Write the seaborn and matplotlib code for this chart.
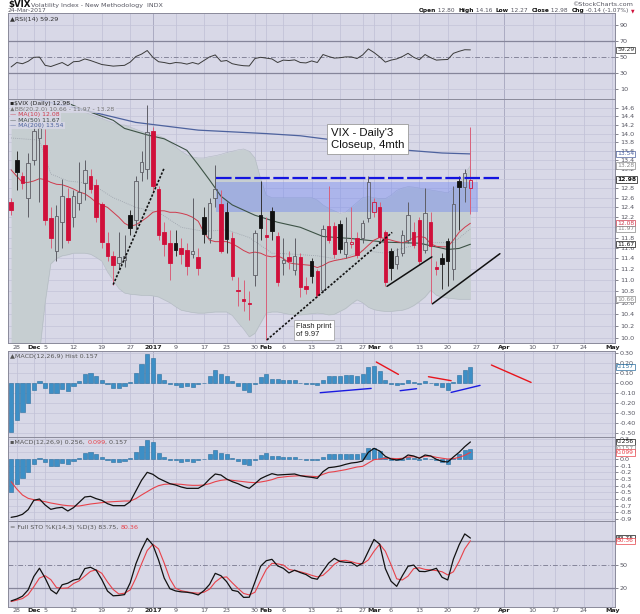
import numpy as np
import matplotlib
matplotlib.use("Agg")
import matplotlib.pyplot as plt
import matplotlib.ticker as mticker
import matplotlib.transforms as mtrans
from matplotlib.patches import Rectangle
import seaborn as sns

# trading day index: 0 = 25 Nov 2016 ... 81 = 24 Mar 2017 (future days run to 1 May = 106)
days = list(range(82))
prev_close = 12.43

opens = [12.50, 13.40, 13.05, 12.60, 13.40, 13.90, 13.73, 12.18, 11.55, 12.10,
         12.60, 12.20, 12.48, 12.90, 13.05, 12.87, 12.47, 11.70, 11.45, 11.32,
         11.38, 12.25, 12.14, 13.15, 13.20, 14.05, 12.78, 11.90, 11.70, 11.70,
         11.60, 11.56, 11.48, 11.42, 12.20, 11.80, 12.60, 12.47, 12.30, 11.80,
         10.83, 10.66, 10.60, 11.10, 12.25, 11.85, 12.33, 11.83, 11.32, 11.43,
         11.18, 11.42, 10.90, 11.35, 11.17, 10.82, 12.03, 12.03, 12.07, 11.48,
         11.68, 11.79, 11.79, 12.18, 12.30, 12.40, 11.90, 11.55, 11.30, 11.50,
         11.75, 11.90, 12.14, 11.56, 12.10, 11.25, 11.40, 11.73, 11.20, 12.95,
         12.82, 12.80]
highs = [12.60, 13.60, 13.15, 13.55, 14.20, 14.30, 14.10, 12.40, 12.45, 13.00,
         12.80, 12.75, 13.35, 13.40, 13.20, 13.00, 12.50, 11.90, 11.55, 11.90,
         11.85, 12.35, 13.05, 13.60, 14.68, 14.15, 12.85, 12.10, 11.95, 11.95,
         11.80, 11.70, 12.60, 11.60, 12.40, 12.60, 13.30, 12.75, 12.50, 11.90,
         11.05, 11.00, 10.80, 11.95, 12.95, 12.20, 12.40, 11.90, 11.80, 11.55,
         11.80, 11.50, 11.05, 11.40, 11.20, 12.05, 12.85, 12.10, 12.15, 12.20,
         12.40, 11.90, 12.15, 13.05, 12.60, 12.50, 11.95, 11.60, 11.60, 11.95,
         12.50, 12.10, 12.20, 12.80, 12.30, 11.35, 11.50, 11.80, 12.85, 13.05,
         13.20, 14.16]
lows = [12.25, 12.75, 12.78, 12.20, 13.30, 12.50, 12.05, 11.60, 11.35, 11.60,
        11.70, 12.00, 12.35, 12.55, 12.70, 12.10, 11.60, 11.35, 10.92, 11.20,
        11.25, 11.85, 11.95, 12.95, 13.00, 12.70, 11.75, 11.45, 11.00, 11.45,
        11.30, 11.10, 11.40, 11.10, 11.70, 11.70, 12.40, 11.50, 11.50, 11.00,
        10.55, 10.45, 10.30, 10.90, 11.75, 9.97, 11.75, 10.90, 11.10, 11.20,
        11.10, 10.70, 10.75, 10.95, 10.70, 10.78, 11.70, 11.40, 11.50, 11.40,
        11.60, 11.40, 11.70, 12.10, 12.20, 11.70, 10.90, 11.00, 11.20, 11.45,
        11.70, 11.60, 11.30, 11.50, 10.60, 11.10, 10.85, 10.90, 11.00, 11.95,
        12.50, 12.27]
closes = [12.34, 13.15, 12.90, 13.33, 14.07, 14.12, 12.14, 11.79, 12.22, 12.64,
          11.75, 12.64, 12.72, 13.19, 12.79, 12.20, 11.71, 11.45, 11.27, 11.43,
          11.44, 11.99, 12.95, 13.37, 14.04, 12.85, 11.85, 11.67, 11.32, 11.56,
          11.49, 11.26, 11.54, 11.23, 11.87, 12.48, 12.78, 11.54, 11.77, 11.07,
          10.81, 10.63, 10.58, 11.88, 11.99, 11.81, 11.93, 10.97, 11.37, 11.35,
          11.45, 10.88, 10.85, 11.07, 10.74, 11.97, 11.76, 11.49, 11.57, 11.72,
          11.71, 11.47, 12.09, 12.92, 12.50, 11.81, 10.96, 11.22, 11.45, 11.85,
          12.25, 11.66, 11.35, 12.28, 11.64, 11.21, 11.30, 11.36, 12.47, 12.82,
          13.12, 12.98]

ma10 = [13.19, 13.05, 12.92, 12.92, 12.95, 13.00, 12.98, 12.92, 12.88, 12.87,
        12.83, 12.78, 12.72, 12.68, 12.60, 12.50, 12.45, 12.40, 12.30, 12.20,
        12.08, 12.02, 12.05, 12.12, 12.20, 12.30, 12.33, 12.33, 12.30, 12.30,
        12.28, 12.25, 12.20, 12.12, 11.90, 11.75, 11.72, 11.72, 11.72, 11.68,
        11.62, 11.55, 11.50, 11.52, 11.50, 11.45, 11.43, 11.45, 11.40, 11.32,
        11.30, 11.29, 11.28, 11.27, 11.23, 11.27, 11.33, 11.36, 11.38, 11.40,
        11.43, 11.46, 11.55, 11.65, 11.75, 11.80, 11.78, 11.75, 11.72, 11.70,
        11.73, 11.80, 11.82, 11.80, 11.68, 11.63, 11.62, 11.62, 11.75, 11.90,
        12.00, 12.08]
bb_upper = [18.6, 18.5, 18.4, 18.3, 18.2, 18.0, 16.0, 14.95, 14.75, 14.60,
            14.52, 14.50, 14.50, 14.50, 14.45, 14.40, 14.35, 14.30, 14.25, 14.20,
            14.20, 14.15, 14.10, 14.05, 14.00, 14.00, 13.95, 13.90, 13.80, 13.70,
            13.60, 13.52, 13.47, 13.45, 13.45, 13.48, 13.50, 13.53, 13.57, 13.60,
            13.63, 13.65, 13.60, 13.45, 13.00, 12.65, 12.60, 12.60, 12.60, 12.60,
            12.60, 12.60, 12.60, 12.60, 12.55, 12.45, 12.38, 12.33, 12.28, 12.30,
            12.40, 12.50, 12.60, 12.62, 12.60, 12.58, 12.58, 12.65, 12.75, 12.80,
            12.83, 12.82, 12.80, 12.78, 12.76, 12.74, 12.72, 12.70, 12.78, 12.90,
            13.10, 13.28]
bb_lower = [9.20, 9.30, 9.40, 9.50, 9.60, 9.75, 10.60, 11.30, 11.40, 11.45,
            11.47, 11.50, 11.50, 11.50, 11.48, 11.42, 11.35, 11.15, 11.00, 10.85,
            10.77, 10.75, 10.74, 10.73, 10.73, 10.72, 10.70, 10.65, 10.60, 10.53,
            10.47, 10.45, 10.43, 10.42, 10.42, 10.43, 10.44, 10.44, 10.44, 10.38,
            10.26, 10.15, 10.02, 10.08, 10.25, 10.42, 10.44, 10.44, 10.42, 10.40,
            10.39, 10.39, 10.40, 10.41, 10.42, 10.41, 10.39, 10.40, 10.45, 10.50,
            10.58, 10.65, 10.60, 10.52, 10.48, 10.46, 10.45, 10.45, 10.46, 10.47,
            10.50, 10.55, 10.62, 10.70, 10.82, 10.73, 10.70, 10.68, 10.67, 10.66,
            10.66, 10.66]
bb_mid_days = [0, 5, 7, 10, 14, 18, 22, 26, 30, 34, 38, 42, 46, 50, 54, 58, 62, 66, 70, 74, 78, 81]
bb_mid = [13.90, 13.85, 13.10, 12.95, 12.90, 12.60, 12.40, 12.30, 12.00, 11.92, 11.95,
          11.80, 11.50, 11.48, 11.45, 11.38, 11.55, 11.50, 11.62, 11.70, 11.70, 11.97]
ma50_days = [6, 10, 13, 18, 20, 24, 27, 31, 33, 35, 37, 39, 43, 47, 51, 55, 60, 66, 72, 77, 79, 81]
ma50 = [14.95, 14.72, 14.55, 14.31, 14.12, 13.97, 13.88, 13.62, 13.30, 12.97, 12.63,
        12.45, 12.24, 12.10, 12.00, 11.82, 11.78, 11.71, 11.69, 11.57, 11.59, 11.67]
ma200_days = [0, 13, 22, 33, 45, 51, 57, 63, 70, 76, 81]
ma200 = [14.95, 14.55, 14.26, 14.08, 14.00, 13.95, 13.85, 13.74, 13.62, 13.56, 13.54]

rsi = [38.0, 43.5, 42.0, 45.0, 50.0, 50.3, 40.0, 38.5, 41.0, 43.5,
       39.5, 44.5, 45.0, 48.0, 46.0, 43.5, 41.0, 40.0, 39.0, 39.5,
       40.0, 44.0, 51.0, 54.0, 58.5, 50.0, 44.5, 43.5, 42.0, 43.5,
       43.0, 41.5, 43.5, 41.5, 46.0, 50.5, 53.0, 45.0, 46.0, 42.0,
       40.5, 39.5, 39.2, 48.5, 50.0, 49.0, 48.0, 43.5, 46.5, 46.0,
       46.8, 43.5, 43.0, 45.5, 43.5, 53.5, 51.0, 49.0, 49.5, 50.5,
       50.5, 48.5, 53.0, 60.5, 56.0, 50.5, 44.0, 46.5, 48.0, 51.0,
       55.0, 50.0, 47.0, 53.5, 49.5, 46.5, 47.0, 47.3, 55.0, 57.5,
       59.5, 59.29]

macd_hist = [-0.49, -0.37, -0.29, -0.20, -0.07, 0.02, -0.05, -0.10, -0.10, -0.06,
             -0.08, -0.03, 0.02, 0.09, 0.10, 0.07, 0.03, -0.01, -0.05, -0.05,
             -0.03, 0.01, 0.10, 0.19, 0.29, 0.25, 0.09, 0.03, -0.01, -0.02,
             -0.04, -0.03, -0.04, -0.01, 0.00, 0.07, 0.13, 0.09, 0.07, 0.02,
             -0.03, -0.07, -0.09, -0.01, 0.06, 0.09, 0.04, 0.04, 0.03, 0.03,
             0.03, 0.00, -0.01, -0.01, -0.02, 0.03, 0.07, 0.07, 0.07, 0.08,
             0.08, 0.07, 0.09, 0.16, 0.17, 0.12, 0.03, -0.01, -0.02, -0.01,
             0.03, 0.01, -0.01, 0.02, 0.00, -0.02, -0.04, -0.07, 0.01, 0.08,
             0.13, 0.157]
macd_line = [-0.875, -0.86, -0.83, -0.76, -0.62, -0.60, -0.69, -0.755, -0.735, -0.725,
             -0.78, -0.73, -0.65, -0.57, -0.56, -0.595, -0.62, -0.67, -0.70, -0.70,
             -0.70, -0.64, -0.48, -0.32, -0.20, -0.23, -0.29, -0.33, -0.37, -0.39,
             -0.42, -0.44, -0.44, -0.44, -0.39, -0.30, -0.225, -0.24, -0.30, -0.34,
             -0.37, -0.41, -0.44, -0.37, -0.295, -0.255, -0.22, -0.24, -0.235, -0.23,
             -0.225, -0.25, -0.265, -0.275, -0.29, -0.19, -0.13, -0.12, -0.105, -0.08,
             -0.06, -0.05, -0.03, 0.10, 0.16, 0.12, 0.04, 0.00, -0.015, 0.00,
             0.06, 0.045, 0.01, 0.06, 0.045, -0.005, -0.035, -0.045, 0.03, 0.10,
             0.185, 0.256]
macd_signal = [-0.34, -0.45, -0.54, -0.59, -0.61, -0.625, -0.64, -0.66, -0.675, -0.69,
               -0.70, -0.705, -0.705, -0.69, -0.675, -0.665, -0.655, -0.645, -0.64, -0.635,
               -0.63, -0.63, -0.595, -0.54, -0.49, -0.44, -0.40, -0.38, -0.375, -0.375,
               -0.38, -0.39, -0.395, -0.395, -0.39, -0.37, -0.34, -0.32, -0.31, -0.32,
               -0.33, -0.34, -0.35, -0.355, -0.345, -0.33, -0.31, -0.28, -0.27, -0.26,
               -0.255, -0.25, -0.255, -0.26, -0.265, -0.23, -0.20, -0.19, -0.175, -0.16,
               -0.14, -0.12, -0.11, -0.06, -0.01, 0.00, 0.01, 0.01, 0.005, 0.01,
               0.03, 0.035, 0.02, 0.04, 0.045, 0.025, 0.012, 0.00, 0.005, 0.025,
               0.055, 0.099]

sto_k = [4.0, 6.5, 10.0, 18.0, 35.0, 45.5, 33.0, 18.0, 13.0, 24.5,
         26.5, 30.5, 32.0, 45.0, 46.7, 43.0, 31.0, 16.5, 10.5, 11.0,
         12.0, 27.0, 51.0, 69.0, 83.4, 75.0, 56.0, 33.0, 19.5, 16.7,
         15.5, 15.0, 13.8, 11.6, 17.0, 25.0, 39.0, 36.0, 28.5, 17.5,
         16.0, 8.5, 8.7, 28.0, 48.0, 55.0, 56.8, 48.5, 45.4, 39.5,
         43.0, 40.0, 37.5, 33.0, 31.5, 42.0, 52.0, 58.0, 54.0, 53.0,
         52.6, 48.0, 52.0, 67.0, 82.0, 76.0, 45.0, 29.0, 22.5, 36.0,
         48.0, 49.5, 41.5, 41.2, 43.0, 45.4, 34.0, 30.6, 57.0, 75.0,
         89.0, 83.75]
sto_d = [3.2, 5.0, 7.0, 12.0, 22.0, 33.0, 36.0, 31.0, 21.0, 20.0,
         20.5, 26.0, 29.5, 35.5, 41.5, 43.5, 39.0, 28.0, 18.5, 12.8,
         13.8, 18.0, 33.0, 51.0, 68.0, 75.8, 70.0, 52.0, 32.0, 20.0,
         17.0, 15.5, 14.5, 13.8, 15.0, 19.0, 28.0, 33.5, 34.5, 27.0,
         20.0, 13.5, 11.6, 15.0, 30.0, 44.0, 51.7, 51.0, 49.6, 44.0,
         42.5, 41.0, 39.0, 36.5, 34.5, 36.5, 43.0, 50.5, 55.0, 55.5,
         53.8, 51.7, 51.0, 56.0, 67.0, 76.0, 67.0, 50.0, 32.0, 30.6,
         35.5, 45.0, 46.0, 44.0, 43.3, 42.5, 41.0, 37.0, 41.0, 54.0,
         70.0, 80.36]

# annotations drawn on the chart (day index, value)
dotted_lines = [[(18.0, 10.92), (27.0, 13.23)], [(45.1, 9.97), (67.2, 11.90)]]
solid_lines = [[(66.3, 10.89), (74.2, 11.43)], [(74.3, 10.58), (86.2, 11.49)]]
zone_days, zone_low, zone_high = (36.2, 82.4), 12.31, 12.93
resistance, resistance_days = 13.01, (36.2, 86.1)
hist_red = [[(64.4, 0.207), (68.3, 0.083)], [(73.6, 0.06), (77.6, 0.02)], [(84.7, 0.177), (91.7, 0.003)]]
hist_blue = [[(54.5, -0.10), (63.5, -0.057)], [(68.6, -0.08), (71.5, -0.06)], [(77.6, -0.097), (82.7, -0.027)]]

date_ticks = [1, 4, 6, 11, 16, 21, 25, 29, 34, 38, 43, 45, 48, 53, 58, 62, 64, 67, 72, 77, 82, 87, 92, 96, 101, 106]
date_labels = ['28', 'Dec', '5', '12', '19', '27', '2017', '9', '17', '23', '30', 'Feb', '6', '13',
               '21', '27', 'Mar', '6', '13', '20', '27', 'Apr', '10', '17', '24', 'May']
month_labels = {'Dec', '2017', 'Feb', 'Mar', 'Apr', 'May'}
quarter_days = {25, 87}

sns.set_style("white")
plt.rcParams['font.family'] = ['DejaVu Sans']

BG = '#d8d8e7'
GRID = '#c3c3d8'
RED = '#d0103a'
BLK = '#111111'
HOLLOW = '#5e5e66'
TXT = '#555560'
W, H = 640, 614

fig = plt.figure(figsize=(W / 100, H / 100), dpi=100)


def panel(top, bottom, ylim, ticks, fmt):
    ax = fig.add_axes([8 / W, 1 - bottom / H, 607 / W, (bottom - top) / H])
    ax.set_facecolor(BG)
    ax.set_xlim(-0.55, 106.5)
    ax.set_ylim(*ylim)
    ax.yaxis.tick_right()
    ax.yaxis.set_major_locator(mticker.FixedLocator(ticks))
    ax.yaxis.set_major_formatter(mticker.FuncFormatter(lambda v, p: fmt % (0.0 if abs(v) < 1e-9 else v)))
    ax.yaxis.set_minor_locator(mticker.NullLocator())
    ax.tick_params(axis='y', labelsize=4.6, colors=TXT, length=2, width=0.5, pad=1.5)
    ax.tick_params(axis='x', bottom=False, labelbottom=False)
    for sp in ax.spines.values():
        sp.set_color('#8a8a9a')
        sp.set_linewidth(0.7)
    for d in date_ticks:
        ax.axvline(d, color='#a4a4bc' if d in quarter_days else GRID, lw=0.6, zorder=0.5)
    return ax


def tag(ax, v, s, color, bold=False):
    ax.annotate(s, xy=(1, v), xycoords=('axes fraction', 'data'), xytext=(1.5, 0),
                textcoords='offset points', fontsize=4.3, color=color, va='center', ha='left',
                fontweight='bold' if bold else 'normal', annotation_clip=False, zorder=6,
                bbox=dict(boxstyle='square,pad=0.12', fc='white', ec=color, lw=0.5))


def chain(ax, x, y, parts, size=4.6):
    t = ax.text(x, y, parts[0][0], color=parts[0][1], fontsize=size, va='center', ha='left',
                transform=ax.transAxes, zorder=7)
    for p in parts[1:]:
        t = ax.annotate(p[0], xy=(1, 0), xycoords=t, va='bottom', ha='left', color=p[1],
                        fontsize=size, zorder=7)
    return t


def date_row(ax, yfrac):
    tr = mtrans.blended_transform_factory(ax.transData, ax.transAxes)
    for d, lab in zip(date_ticks, date_labels):
        ax.text(d, yfrac, lab, transform=tr, ha='center', va='center', fontsize=4.6,
                color='#222' if lab in month_labels else TXT,
                fontweight='bold' if lab in month_labels else 'normal', clip_on=False)


# ---------------- RSI ----------------
ax_rsi = panel(13, 99, (-2.1, 105.4), [10, 30, 50, 70, 90], '%d')
for lv in (10, 90):
    ax_rsi.axhline(lv, color=GRID, lw=0.5, zorder=0.5)
for lv in (30, 70):
    ax_rsi.axhline(lv, color='#85859a', lw=0.9, zorder=1)
ax_rsi.axhline(50, color='#85859a', lw=0.7, ls=(0, (5, 2, 1, 2)), zorder=1)
sns.lineplot(x=days, y=rsi, ax=ax_rsi, color='#3a3a3a', lw=0.7, zorder=3)
chain(ax_rsi, 0.004, 0.93, [('\u25b2RSI(14) 59.29', '#333')])
tag(ax_rsi, 59.29, '59.29', '#333')
ax_rsi.set_xlabel('')
ax_rsi.set_ylabel('')

# ---------------- price ----------------
price_ticks = [round(10.0 + 0.2 * k, 1) for k in range(24)]
ax = panel(99, 343, (9.92, 14.82), [], '%.1f')
ax.set_yscale('log')
ax.set_ylim(9.92, 14.82)
ax.yaxis.set_major_locator(mticker.FixedLocator(price_ticks))
ax.yaxis.set_major_formatter(mticker.FormatStrFormatter('%.1f'))
ax.yaxis.set_minor_locator(mticker.NullLocator())
ax.yaxis.set_minor_formatter(mticker.NullFormatter())
ax.tick_params(axis='y', labelsize=4.6, colors=TXT, length=2, width=0.5, pad=1.5)
for p in price_ticks:
    ax.axhline(p, color=GRID, lw=0.5, zorder=0.5)

ax.fill_between(days, bb_lower, bb_upper, color='#c6ced1', lw=0, zorder=1)
sns.lineplot(x=days, y=bb_upper, ax=ax, color='#b2b9c2', lw=0.4, zorder=1.1)
sns.lineplot(x=days, y=bb_lower, ax=ax, color='#b2b9c2', lw=0.4, zorder=1.1)
sns.lineplot(x=bb_mid_days, y=bb_mid, ax=ax, color='#9aa0aa', lw=0.6, ls=(0, (1, 1.5)), zorder=1.2)

ax.add_patch(Rectangle((zone_days[0], zone_low), zone_days[1] - zone_days[0], zone_high - zone_low,
                       facecolor='#6f86f2', alpha=0.42, lw=0, zorder=1.5))

sns.lineplot(x=ma200_days, y=ma200, ax=ax, color='#4d629e', lw=0.9, zorder=2)
sns.lineplot(x=ma50_days, y=ma50, ax=ax, color='#3d5346', lw=0.8, zorder=2)
sns.lineplot(x=days, y=ma10, ax=ax, color='#cf3a4c', lw=0.7, zorder=2)

prevs = [prev_close] + closes[:-1]
for i, (o, h, l, c, pc) in enumerate(zip(opens, highs, lows, closes, prevs)):
    col = RED if c < pc else BLK
    top, bot = max(o, c), min(o, c)
    filled = c < o
    edge = col if (filled or col == RED) else HOLLOW
    wick = '#d8607a' if col == RED else ('#333' if filled else HOLLOW)
    ax.vlines(i, top, h, color=wick, lw=0.7, zorder=3)
    ax.vlines(i, l, bot, color=wick, lw=0.7, zorder=3)
    ax.bar(i, max(top - bot, 0.02), bottom=bot, width=0.62, facecolor=col if filled else 'none',
           edgecolor=edge, lw=0.6, zorder=3.2)

ax.hlines(resistance, *resistance_days, colors='#1414e0', lw=1.6, linestyles=(0, (7, 1.6)), zorder=4)
for (x0, y0), (x1, y1) in dotted_lines:
    ax.plot([x0, x1], [y0, y1], color='#111', lw=1.2, ls=(0, (1.4, 1.0)), zorder=4)
for (x0, y0), (x1, y1) in solid_lines:
    ax.plot([x0, x1], [y0, y1], color='#111', lw=1.1, zorder=4)

box = dict(boxstyle='square,pad=0.35', fc='white', ec='#9a9a9a', lw=0.6)
ax.text(56.4, 14.12, "VIX - Daily'3\nCloseup, 4mth", fontsize=8.2, family=['Liberation Sans', 'DejaVu Sans'],
        va='top', ha='left', color='#111', bbox=box, zorder=6, linespacing=1.25)
ax.text(50.3, 10.26, "Flash print\nof 9.97", fontsize=5.4, family=['Liberation Sans', 'DejaVu Sans'],
        va='top', ha='left', color='#222', bbox=dict(boxstyle='square,pad=0.3', fc='white', ec='#9a9a9a', lw=0.5),
        zorder=6, linespacing=1.3)

leg_bg = dict(boxstyle='square,pad=0.15', fc=BG, ec='none', alpha=0.8)
legend_rows = [('\u25aa\\$VIX (Daily) 12.98', '#222'),
               ('\u25b2BB(20,2.0) 10.66 - 11.97 - 13.28', '#777'),
               ('\u2014 MA(10) 12.08', '#cf3a4c'),
               ('\u2014 MA(50) 11.67', '#3d4a44'),
               ('\u2014 MA(200) 13.54', '#4d629e')]
for k, (s, c) in enumerate(legend_rows):
    ax.text(0.004, 1 - (103.5 + 5.6 * k - 99) / 244, s, color=c, fontsize=4.4,
            transform=ax.transAxes, va='center', ha='left', bbox=leg_bg, zorder=7)

tag(ax, 13.54, '13.54', '#4d629e')
tag(ax, 13.28, '13.28', '#888')
tag(ax, 12.98, '12.98', '#111', bold=True)
tag(ax, 12.08, '12.08', '#cf3a4c')
tag(ax, 11.97, '11.97', '#888')
tag(ax, 11.67, '11.67', '#111')
tag(ax, 10.66, '10.66', '#888')
date_row(ax, -0.018)
ax.set_xlabel('')
ax.set_ylabel('')

# ---------------- MACD histogram ----------------
hist_ticks = [round(-0.5 + 0.1 * k, 2) for k in range(9)]
ax_h = panel(351, 437, (-0.543, 0.317), hist_ticks, '%.2f')
for v in hist_ticks:
    ax_h.axhline(v, color=GRID, lw=0.5, zorder=0.5)
ax_h.bar(days, macd_hist, width=0.72, color='#3d8fc6', edgecolor='#2a6d9e', lw=0.4, zorder=3)
for (x0, y0), (x1, y1) in hist_red:
    ax_h.plot([x0, x1], [y0, y1], color='#e8141c', lw=1.0, zorder=4)
for (x0, y0), (x1, y1) in hist_blue:
    ax_h.plot([x0, x1], [y0, y1], color='#1a1ae0', lw=1.0, zorder=4)
chain(ax_h, 0.004, 0.935, [('\u25b2MACD(12,26,9) Hist 0.157', '#555')])
tag(ax_h, 0.157, '0.157', '#2a6d9e')

# ---------------- MACD lines ----------------
macd_ticks = [round(-0.9 + 0.1 * k, 1) for k in range(13)]
ax_m = panel(437, 521, (-0.93, 0.33), macd_ticks, '%.1f')
for v in macd_ticks:
    ax_m.axhline(v, color=GRID, lw=0.5, zorder=0.5)
ax_m.bar(days, macd_hist, width=0.72, color='#3d8fc6', edgecolor='#2a6d9e', lw=0.4, zorder=2)
sns.lineplot(x=days, y=macd_signal, ax=ax_m, color='#e8424a', lw=0.8, zorder=3)
sns.lineplot(x=days, y=macd_line, ax=ax_m, color='#111', lw=0.9, zorder=4)
chain(ax_m, 0.004, 0.935, [('\u25aaMACD(12,26,9) 0.256, ', '#555'), ('0.099', '#e8424a'), (', 0.157', '#555')])
tag(ax_m, 0.256, '0.256', '#111')
tag(ax_m, 0.157, '0.157', '#888')
tag(ax_m, 0.099, '0.099', '#e8424a')
ax_m.set_xlabel('')
ax_m.set_ylabel('')

# ---------------- Full stochastics ----------------
ax_s = panel(521, 607, (-3.7, 105.4), [20, 50, 80], '%d')
for lv in (20, 80):
    ax_s.axhline(lv, color='#85859a', lw=0.9, zorder=1)
ax_s.axhline(50, color='#85859a', lw=0.7, ls=(0, (5, 2, 1, 2)), zorder=1)
sns.lineplot(x=days, y=sto_d, ax=ax_s, color='#e8424a', lw=0.8, zorder=3)
sns.lineplot(x=days, y=sto_k, ax=ax_s, color='#111', lw=0.9, zorder=4)
chain(ax_s, 0.004, 0.93, [('= Full STO %K(14,3) %D(3) 83.75, ', '#555'), ('80.36', '#e8424a')])
tag(ax_s, 83.75, '83.75', '#111')
tag(ax_s, 80.36, '80.36', '#e8424a')
date_row(ax_s, -0.041)
ax_s.set_xlabel('')
ax_s.set_ylabel('')

# ---------------- header ----------------
fig.text(8 / W, 1 - 5 / H, r'\$VIX', fontsize=6.2, fontweight='bold', color='#111', va='center')
fig.text(31 / W, 1 - 5 / H, 'Volatility Index - New Methodology  INDX', fontsize=4.6, color=TXT, va='center')
fig.text(8 / W, 1 - 10.5 / H, '24-Mar-2017', fontsize=4.4, color=TXT, va='center')
fig.text(633 / W, 1 - 5 / H, '\u00a9StockCharts.com', fontsize=4.6, color=TXT, va='center', ha='right')
# right-aligned quote line, built from the right end leftwards
header_parts = [('Open', '#111', 'bold'), (' 12.80  ', TXT, 'normal'), ('High', '#111', 'bold'),
                (' 14.16  ', TXT, 'normal'), ('Low', '#111', 'bold'), (' 12.27  ', TXT, 'normal'),
                ('Close', '#111', 'bold'), (' 12.98  ', TXT, 'normal'), ('Chg', '#111', 'bold'),
                (' -0.14 (-1.07%) ', TXT, 'normal')]
prev = fig.text(634 / W, 1 - 10.5 / H, '\u25bc', fontsize=3.3, color='#d0103a', va='center', ha='right')
for s, c, w in reversed(header_parts):
    prev = ax_rsi.annotate(s, xy=(0, 0), xycoords=prev, va='bottom', ha='right', color=c,
                           fontsize=4.2, fontweight=w, annotation_clip=False)

fig.savefig('out.png', dpi=100, facecolor='white')
